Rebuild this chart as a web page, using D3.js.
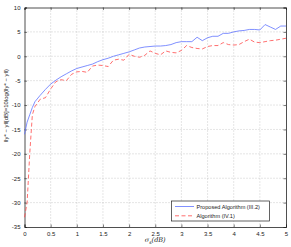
<!DOCTYPE html>
<html>
<head>
<meta charset="UTF-8">
<style>
  body { margin: 0; background: #fff; }
  svg { font-family: 'Liberation Sans', Arial, sans-serif; }
</style>
</head>
<body>
<div id="chart"></div>
<script src="https://d3js.org/d3.v7.min.js"></script>
<script>
// sigma_s values (dB)
const sigma = [0, 0.05, 0.1, 0.15, 0.2, 0.3, 0.4, 0.5, 0.6, 0.7, 0.8, 0.9, 1.0,
  1.1, 1.2, 1.3, 1.4, 1.5, 1.6, 1.7, 1.8, 1.9, 2.0, 2.1, 2.2, 2.3, 2.4, 2.5,
  2.6, 2.7, 2.8, 2.9, 3.0, 3.1, 3.2, 3.3, 3.4, 3.5, 3.6, 3.7, 3.8, 3.9, 4.0,
  4.1, 4.2, 4.3, 4.4, 4.5, 4.6, 4.7, 4.8, 4.9, 5.0];

const proposed = [-16, -13.5, -12, -10.5, -9.3, -8, -6.8, -5.7, -4.9, -4.2, -3.6, -3.0, -2.5,
  -2.2, -1.9, -1.6, -1.1, -0.7, -0.4, 0, 0.3, 0.6, 0.9, 1.3, 1.7, 1.9, 2.0, 2.1,
  2.1, 2.2, 2.4, 2.8, 3.0, 3.0, 3.0, 3.9, 3.2, 3.8, 4.1, 4.1, 4.7, 4.7, 5.0,
  5.2, 5.3, 5.5, 5.5, 5.4, 6.5, 6.0, 5.5, 6.2, 6.2];

const baseline = [-33, -30, -20, -12, -10.3, -8.8, -8.5, -6.7, -5.2, -4.8, -5.0, -3.7, -3.2,
  -3.1, -3.3, -2.0, -1.8, -1.9, -2.1, -0.8, -0.6, -0.8, 0.4, 0.0, -0.2, 0.2, 1.1, 0.6,
  0.3, 1.1, 0.8, 0.7, 1.2, 2.2, 1.8, 1.6, 1.5, 2.0, 2.2, 2.2, 2.8, 2.4, 2.3,
  2.4, 3.0, 3.5, 2.9, 2.8, 3.0, 3.2, 3.3, 3.5, 3.7];

const xTicks = d3.range(0, 5.01, 0.5);
const yTicks = d3.range(-35, 10.01, 5);
const legendLabels = ['Proposed Algorithm (III.2)', 'Algorithm (IV.1)'];

const width = 291, height = 247;
const margin = { top: 7.5, right: 5, bottom: 20, left: 24.5 };
const iw = width - margin.left - margin.right;
const ih = height - margin.top - margin.bottom;

const svg = d3.select('#chart').append('svg')
  .attr('width', width).attr('height', height);
const g = svg.append('g').attr('transform', `translate(${margin.left},${margin.top})`);

const x = d3.scaleLinear().domain([0, 5]).range([0, iw]);
const y = d3.scaleLinear().domain([-35, 10]).range([ih, 0]);

// grid
g.selectAll('.gx').data(xTicks.slice(1, -1)).enter().append('line')
  .attr('x1', d => x(d)).attr('x2', d => x(d)).attr('y1', 0).attr('y2', ih)
  .attr('stroke', '#aaa').attr('stroke-width', 0.6).attr('stroke-dasharray', '1,2');
g.selectAll('.gy').data(yTicks.slice(1, -1)).enter().append('line')
  .attr('y1', d => y(d)).attr('y2', d => y(d)).attr('x1', 0).attr('x2', iw)
  .attr('stroke', '#aaa').attr('stroke-width', 0.6).attr('stroke-dasharray', '1,2');

// axes, matlab style ticks inside
const fmt = d => String(d);
const axB = g.append('g').attr('transform', `translate(0,${ih})`)
  .call(d3.axisBottom(x).tickValues(xTicks).tickSize(-2.5).tickPadding(5).tickFormat(fmt));
const axT = g.append('g')
  .call(d3.axisTop(x).tickValues(xTicks).tickSize(-2.5).tickFormat(''));
const axL = g.append('g')
  .call(d3.axisLeft(y).tickValues(yTicks).tickSize(-2.5).tickPadding(4).tickFormat(fmt));
const axR = g.append('g').attr('transform', `translate(${iw},0)`)
  .call(d3.axisRight(y).tickValues(yTicks).tickSize(-2.5).tickFormat(''));
[axB, axT, axL, axR].forEach(a => {
  a.select('.domain').attr('stroke', '#222').attr('stroke-width', 0.8);
  a.selectAll('.tick line').attr('stroke', '#222').attr('stroke-width', 0.6);
  a.selectAll('.tick text').attr('font-size', 6).attr('fill', '#222')
    .attr('font-family', "'Liberation Sans', Arial, sans-serif");
});

// lines
const line = arr => d3.line().x((d, i) => x(sigma[i])).y(d => y(d))(arr);
g.append('path').attr('d', line(baseline)).attr('fill', 'none')
  .attr('stroke', '#ff4a4a').attr('stroke-width', 0.8).attr('stroke-dasharray', '4,2.5');
g.append('path').attr('d', line(proposed)).attr('fill', 'none')
  .attr('stroke', '#5f74ff').attr('stroke-width', 0.8);

// legend
const lg = svg.append('g').attr('transform', 'translate(171.5,201)');
lg.append('rect').attr('width', 98).attr('height', 20)
  .attr('fill', '#fff').attr('stroke', '#222').attr('stroke-width', 0.7);
const styles = [{ c: '#5f74ff', dash: null }, { c: '#ff4a4a', dash: '4,2.5' }];
legendLabels.forEach((t, i) => {
  const yy = 5.5 + i * 9.3;
  lg.append('line').attr('x1', 3.5).attr('x2', 22.5).attr('y1', yy).attr('y2', yy)
    .attr('stroke', styles[i].c).attr('stroke-width', 0.8)
    .attr('stroke-dasharray', styles[i].dash);
  lg.append('text').attr('x', 25).attr('y', yy + 2).attr('font-size', 5.6)
    .attr('fill', '#222').text(t);
});

// axis labels
svg.append('text').attr('x', margin.left + iw / 2).attr('y', 242)
  .attr('text-anchor', 'middle').attr('font-size', 6.5).attr('fill', '#222')
  .attr('font-family', "'DejaVu Serif', serif").attr('font-style', 'italic')
  .html('σ<tspan font-size="4.5" dy="1.5">s</tspan><tspan dy="-1.5">(dB)</tspan>');

svg.append('text')
  .attr('transform', 'translate(7.5,105.5) rotate(-90)')
  .attr('text-anchor', 'middle').attr('font-size', 6).attr('fill', '#222')
  .text('‖y* − y‖[dB]=10log(‖y* − y‖)');
</script>
</body>
</html>
